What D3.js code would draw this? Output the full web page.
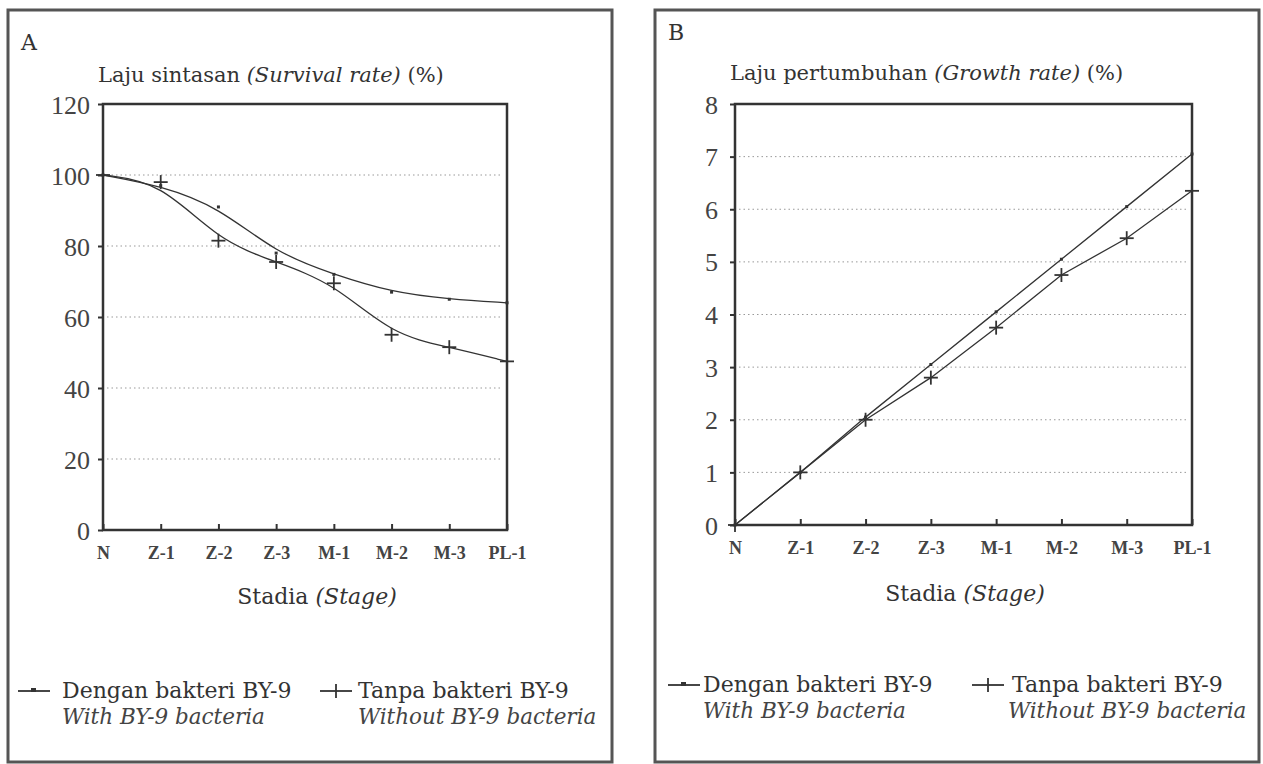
<!DOCTYPE html>
<html>
<head>
<meta charset="utf-8">
<script src="https://cdn.jsdelivr.net/npm/d3@7"></script>
<style>
  body { margin: 0; background: #fff; }
  svg { display: block; }
  .tick text { fill: #444; }
</style>
</head>
<body>
<svg id="chart" width="1263" height="764"></svg>
<script>
// stages on the x axis
var stages = ["N", "Z-1", "Z-2", "Z-3", "M-1", "M-2", "M-3", "PL-1"];

// A: survival rate (%)
var survivalWith = [100, 97, 91, 78, 72, 67, 65, 64];
var survivalWithout = [100, 98, 81.5, 75.5, 69.5, 55, 51.5, 47.5];
var survivalTicks = [0, 20, 40, 60, 80, 100, 120];

// B: growth rate (%)
var growthWith = [0, 1.0, 2.05, 3.05, 4.05, 5.05, 6.05, 7.05];
var growthWithout = [0, 1.0, 2.0, 2.8, 3.75, 4.75, 5.45, 6.35];
var growthTicks = [0, 1, 2, 3, 4, 5, 6, 7, 8];

var ink = "#333";
var serif = "'DejaVu Serif', serif";
var svg = d3.select("#chart");

function drawPanel(p) {
  var g = svg.append("g");

  // outer frame
  g.append("rect")
    .attr("x", p.frame[0]).attr("y", p.frame[1])
    .attr("width", p.frame[2] - p.frame[0]).attr("height", p.frame[3] - p.frame[1])
    .attr("fill", "none").attr("stroke", "#555").attr("stroke-width", 3);

  g.append("text").attr("x", p.frame[0] + 13).attr("y", p.frame[1] + p.letterY)
    .attr("font-family", serif).attr("font-size", 22).attr("fill", ink)
    .text(p.letter);

  var x = d3.scalePoint().domain(stages).range([p.left, p.right]);
  var y = d3.scaleLinear().domain([0, p.ticks[p.ticks.length - 1]]).range([p.bottom, p.top]);

  // dotted grid
  g.selectAll(".grid").data(p.ticks.slice(1, -1)).enter().append("line")
    .attr("x1", p.left + 4).attr("x2", p.right - 4)
    .attr("y1", function(d) { return y(d); }).attr("y2", function(d) { return y(d); })
    .attr("stroke", "#999").attr("stroke-width", 1).attr("stroke-dasharray", "1.5,3");

  var ya = g.append("g").attr("transform", "translate(" + p.left + ",0)")
    .call(d3.axisLeft(y).tickValues(p.ticks).tickSize(5).tickPadding(p.yPad));
  ya.select(".domain").remove();
  ya.selectAll("line").attr("stroke", ink).attr("stroke-width", 2);
  ya.selectAll("text").attr("font-family", "'Liberation Serif', serif").attr("font-size", 26).attr("dy", "0.35em");

  var xa = g.append("g").attr("transform", "translate(0," + p.bottom + ")")
    .call(d3.axisBottom(x).tickSize(-6).tickPadding(16));
  xa.select(".domain").remove();
  xa.selectAll("line").attr("stroke", ink).attr("stroke-width", 2);
  xa.selectAll("text").attr("font-family", "'Liberation Serif', serif").attr("font-weight", "bold")
    .attr("font-size", 18).attr("fill", "#333");

  // plot border
  g.append("rect").attr("x", p.left).attr("y", p.top)
    .attr("width", p.right - p.left).attr("height", p.bottom - p.top)
    .attr("fill", "none").attr("stroke", ink).attr("stroke-width", 2.5);

  var line = d3.line()
    .x(function(d, i) { return x(stages[i]); })
    .y(function(d) { return y(d); })
    .curve(p.curve);

  [p.withData, p.withoutData].forEach(function(vals) {
    g.append("path").datum(vals).attr("d", line)
      .attr("fill", "none").attr("stroke", ink).attr("stroke-width", 1.3);
  });

  // dot markers (with bacteria)
  g.selectAll(".dot").data(p.withData).enter().append("rect")
    .attr("x", function(d, i) { return x(stages[i]) - 1.5; })
    .attr("y", function(d) { return y(d) - 1.5; })
    .attr("width", 3).attr("height", 3).attr("fill", ink);

  // plus markers (without bacteria)
  var plus = g.selectAll(".plus").data(p.withoutData).enter().append("g")
    .attr("transform", function(d, i) { return "translate(" + x(stages[i]) + "," + y(d) + ")"; });
  plus.append("line").attr("x1", -7).attr("x2", 7).attr("stroke", ink).attr("stroke-width", 1.8);
  plus.append("line").attr("y1", -7).attr("y2", 7).attr("stroke", ink).attr("stroke-width", 1.8);

  // axis titles
  var yt = g.append("text").attr("x", p.yTitle[0]).attr("y", p.yTitle[1])
    .attr("font-family", serif).attr("font-size", 21).attr("fill", ink);
  yt.append("tspan").text(p.yLabel[0] + " ");
  yt.append("tspan").attr("font-style", "italic").text(p.yLabel[1]);
  yt.append("tspan").text(" (%)");

  var xt = g.append("text").attr("x", p.xTitle[0]).attr("y", p.xTitle[1])
    .attr("text-anchor", "middle").attr("font-family", serif).attr("font-size", 22).attr("fill", ink);
  xt.append("tspan").text("Stadia ");
  xt.append("tspan").attr("font-style", "italic").text("(Stage)");

  // legend
  var leg = [
    { x: p.legend[0], tx: p.legend[1], name: "Dengan bakteri BY-9", en: "With BY-9 bacteria", mark: "dot" },
    { x: p.legend[2], tx: p.legend[3], name: "Tanpa bakteri BY-9", en: "Without BY-9 bacteria", mark: "plus" }
  ];
  leg.forEach(function(l, i) {
    var ly = p.legendY;
    var enx = i == 1 ? p.legend[4] : l.tx;
    g.append("line").attr("x1", l.x).attr("x2", l.x + 32).attr("y1", ly - 7).attr("y2", ly - 7)
      .attr("stroke", ink).attr("stroke-width", 1.8);
    if (l.mark == "dot") {
      g.append("rect").attr("x", l.x + 13).attr("y", ly - 10).attr("width", 5).attr("height", 4).attr("fill", ink);
    } else {
      g.append("line").attr("x1", l.x + 16).attr("x2", l.x + 16).attr("y1", ly - 14).attr("y2", ly)
        .attr("stroke", ink).attr("stroke-width", 1.8);
    }
    g.append("text").attr("x", l.tx).attr("y", ly)
      .attr("font-family", serif).attr("font-size", 22).attr("fill", ink).text(l.name);
    g.append("text").attr("x", enx).attr("y", ly + 26)
      .attr("font-family", serif).attr("font-style", "italic").attr("font-size", 21.5).attr("fill", "#444").text(l.en);
  });
}

drawPanel({
  letter: "A", frame: [8, 10, 612, 762], letterY: 40,
  left: 103, right: 507, top: 104, bottom: 530, yPad: 8,
  ticks: survivalTicks, withData: survivalWith, withoutData: survivalWithout,
  curve: d3.curveBasis,
  yTitle: [98, 82], yLabel: ["Laju sintasan", "(Survival rate)"],
  xTitle: [317, 604],
  legend: [18, 62, 320, 358, 358], legendY: 698
});

drawPanel({
  letter: "B", frame: [655, 10, 1259, 762], letterY: 30,
  left: 735, right: 1192, top: 104, bottom: 525, yPad: 12,
  ticks: growthTicks, withData: growthWith, withoutData: growthWithout,
  curve: d3.curveLinear,
  yTitle: [730, 80], yLabel: ["Laju pertumbuhan", "(Growth rate)"],
  xTitle: [965, 601],
  legend: [668, 703, 972, 1012, 1008], legendY: 692
});
</script>
</body>
</html>
